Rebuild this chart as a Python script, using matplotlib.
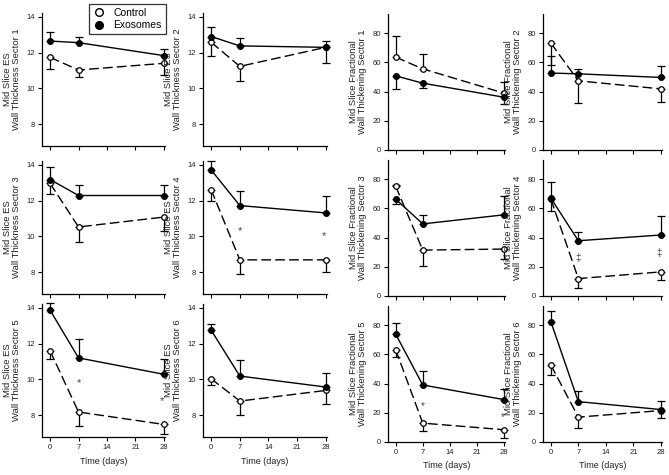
import matplotlib
matplotlib.use("Agg")
import matplotlib.pyplot as plt
from matplotlib.lines import Line2D

W, H = 669, 475

days = [0, 7, 28]
sectors = [1, 2, 3, 4, 5, 6]

# ES wall thickness (mm); signed errors: + drawn up, - drawn down
es_exo = [[12.64, 12.55, 11.83], [12.89, 12.37, 12.29], [13.17, 12.28, 12.28],
          [13.70, 11.72, 11.31], [13.85, 11.20, 10.29], [12.74, 10.19, 9.58]]
es_exo_err = [[0.49, 0.30, 0.35], [0.52, 0.46, 0.35], [0.68, 0.58, 0.61],
              [0.52, 0.83, 0.93], [0.43, 1.07, 0.87], [0.33, 0.87, 0.78]]
es_ctrl = [[11.73, 11.03, 11.40], [12.57, 11.23, 12.29], [12.95, 10.53, 11.08],
           [12.60, 8.70, 8.70], [11.59, 8.19, 7.50], [10.04, 8.80, 9.39]]
es_ctrl_err = [[-0.65, -0.37, -0.65], [-0.76, -0.82, -0.85], [-0.61, -0.81, -0.77],
               [-0.61, -0.80, -0.65], [-0.47, -0.78, -0.52], [-0.32, -0.76, -0.74]]

# fractional wall thickening (%)
fr_exo = [[50.7, 45.7, 36.1], [52.6, 52.1, 49.6], [66.2, 49.3, 55.5],
          [66.9, 37.8, 41.7], [73.7, 39.0, 29.0], [82.3, 27.6, 22.2]]
fr_exo_err = [[-9.1, -3.4, -4.6], [11.4, 3.2, 8.0], [-3.4, 5.9, 13.0],
              [11.0, 6.2, 13.1], [7.9, 9.7, 7.0], [7.2, 7.5, 6.1]]
fr_ctrl = [[63.5, 55.5, 38.9], [73.1, 47.3, 41.8], [75.0, 31.4, 32.1],
           [66.2, 11.9, 16.5], [63.0, 12.9, 8.4], [52.6, 17.0, 21.5]]
fr_ctrl_err = [[14.2, 10.3, 7.5], [-15.0, -15.3, -9.3], [1.0, -10.8, -6.7],
               [-8.0, -6.2, -5.7], [-5.2, -5.6, -5.4], [-6.6, -7.3, -5.0]]

# significance marks: (sector, symbol, day, y)
es_sig = [(4, "*", 7, 10.3), (4, "*", 27.6, 10.0),
          (5, "*", 7, 9.8), (5, "*", 27.6, 8.8)]
fr_sig = [(4, "\u2021", 7, 25.7), (4, "\u2021", 27.6, 29.1),
          (5, "*", 7, 24.5), (5, "*", 27.6, 17.0)]

txt = "#222222"
plt.rcParams["font.family"] = ["Liberation Sans", "DejaVu Sans"]

fig = plt.figure(figsize=(W / 100, H / 100), dpi=100)

# pixel boxes (left, right) per column, (top, bottom) per row
cols_es = [(42, 165), (203, 327)]
cols_fr = [(388, 505), (543, 662)]
rows_es = [(13, 146), (161, 294), (304, 437)]
rows_fr = [(14, 150), (160, 296), (306, 442)]


def make_ax(col, row):
	l, r = col
	t, b = row
	return fig.add_axes([l / W, 1 - b / H, (r - l) / W, (b - t) / H])


def split_err(err):
	lo = [-e if e < 0 else 0 for e in err]
	hi = [e if e > 0 else 0 for e in err]
	return [lo, hi]


def draw(ax, exo, exo_err, ctrl, ctrl_err):
	ax.errorbar(days, ctrl, yerr=split_err(ctrl_err), color="black", lw=1.0,
	            dashes=(7, 3), marker="o", ms=4, mfc="white", mec="black", mew=0.9,
	            ecolor="black", elinewidth=0.9, capsize=3, capthick=0.9, clip_on=False)
	ax.errorbar(days, exo, yerr=split_err(exo_err), color="black", lw=1.0,
	            marker="o", ms=4, mfc="black", mec="black",
	            ecolor="black", elinewidth=0.9, capsize=3, capthick=0.9, clip_on=False)


def style(ax, bottom):
	ax.spines["top"].set_visible(False)
	ax.spines["right"].set_visible(False)
	for s in ("left", "bottom"):
		ax.spines[s].set_linewidth(0.9)
	ax.set_xlim(-2, 28.3)
	ax.set_xticks([0, 7, 14, 21, 28])
	ax.tick_params(direction="out", length=3, width=0.8, labelsize=5.5,
	               colors="black", labelcolor=txt, pad=2)
	if bottom:
		ax.set_xlabel("Time (days)", fontsize=6.5, color=txt, labelpad=4)
	else:
		ax.set_xticklabels([])


for i, sec in enumerate(sectors):
	r, c = i // 2, i % 2
	bottom = (r == 2)

	ax = make_ax(cols_es[c], rows_es[r])
	draw(ax, es_exo[i], es_exo_err[i], es_ctrl[i], es_ctrl_err[i])
	style(ax, bottom)
	ax.set_ylim(6.8, 14.2)
	ax.set_yticks([8, 10, 12, 14])
	ax.set_ylabel("Mid Slice ES\nWall Thickness Sector %d" % sec, fontsize=6.8,
	              color=txt, linespacing=1.0, labelpad=4)
	for s, sym, d, y in es_sig:
		if s == sec:
			ax.text(d, y, sym, fontsize=8, color="#444444", ha="center", va="center")

	ax = make_ax(cols_fr[c], rows_fr[r])
	draw(ax, fr_exo[i], fr_exo_err[i], fr_ctrl[i], fr_ctrl_err[i])
	style(ax, bottom)
	ax.set_ylim(0, 93)
	ax.set_yticks([0, 20, 40, 60, 80])
	ax.set_ylabel("Mid Slice Fractional\nWall Thickening Sector %d" % sec, fontsize=6.8,
	              color=txt, linespacing=1.0, labelpad=4)
	for s, sym, d, y in fr_sig:
		if s == sec:
			ax.text(d, y, sym, fontsize=7, color="#444444", ha="center", va="center")

handles = [Line2D([], [], ls="none", marker="o", ms=5.5, mfc="white", mec="black", mew=1.0),
           Line2D([], [], ls="none", marker="o", ms=5.5, mfc="black", mec="black")]
leg = fig.legend(handles, ["Control", "Exosomes"], loc="upper left",
                 bbox_to_anchor=(89 / W, 1 - 4 / H), fontsize=7.5, frameon=True,
                 fancybox=False, handletextpad=0.8, borderpad=0.35, labelspacing=0.25,
                 handlelength=1.2, borderaxespad=0)
leg.get_frame().set_edgecolor("black")
leg.get_frame().set_linewidth(0.9)

fig.savefig("out.png", dpi=100)
